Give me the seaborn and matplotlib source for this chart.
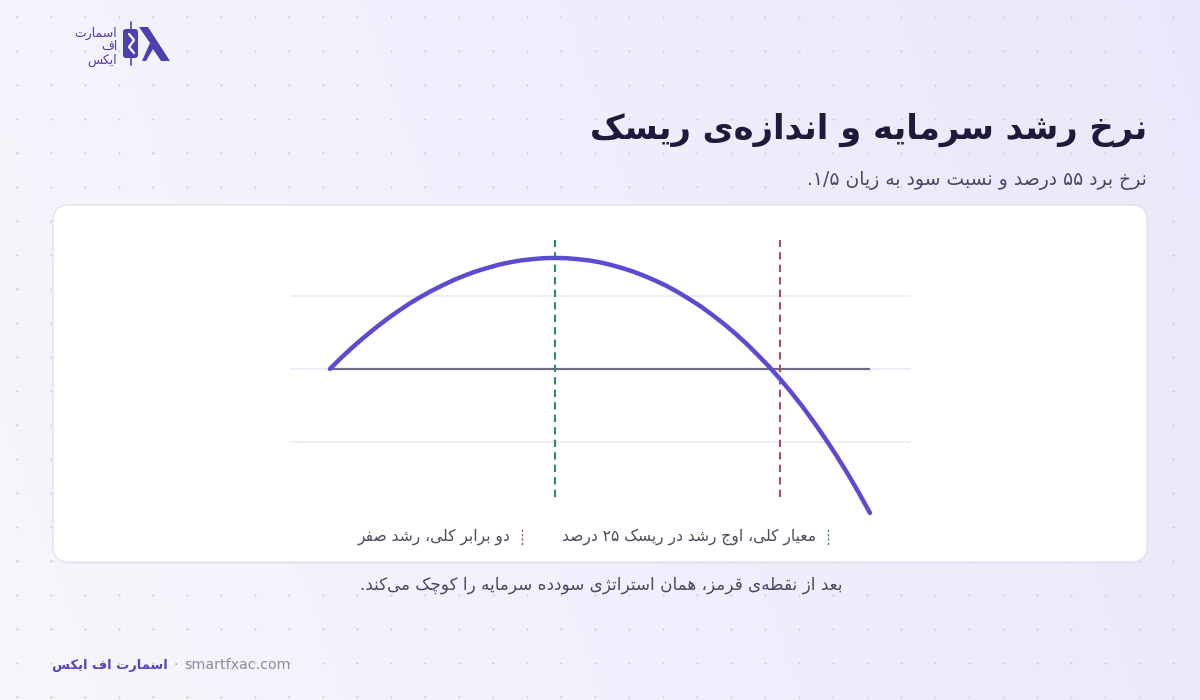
import re
import numpy as np
import matplotlib
matplotlib.use('Agg')
import matplotlib.pyplot as plt
from matplotlib.patches import FancyBboxPatch, Rectangle, Polygon
import seaborn as sns

# risk per trade vs. long-run growth rate (win rate 55%, reward/risk 1.5)
risk = [0.0, 0.0125, 0.025, 0.0375, 0.05, 0.0625, 0.075, 0.0875, 0.1, 0.1125,
        0.125, 0.1375, 0.15, 0.1625, 0.175, 0.1875, 0.2, 0.2125, 0.225, 0.2375,
        0.25, 0.2625, 0.275, 0.2875, 0.3, 0.3125, 0.325, 0.3375, 0.35, 0.3625,
        0.375, 0.3875, 0.4, 0.4125, 0.425, 0.4375, 0.45, 0.4625, 0.475, 0.4875,
        0.5, 0.5125, 0.525, 0.5375, 0.55, 0.5625, 0.575, 0.5875, 0.6]
growth = [0.0, 0.0046, 0.0089, 0.0129, 0.0167, 0.0203, 0.0236, 0.0267, 0.0295, 0.0321,
          0.0344, 0.0366, 0.0385, 0.0402, 0.0416, 0.0429, 0.0439, 0.0447, 0.0452, 0.0456,
          0.0457, 0.0456, 0.0452, 0.0447, 0.0439, 0.0428, 0.0415, 0.0400, 0.0382, 0.0362,
          0.0340, 0.0314, 0.0286, 0.0256, 0.0222, 0.0186, 0.0147, 0.0105, 0.0059, 0.0011,
          -0.0041, -0.0096, -0.0155, -0.0218, -0.0285, -0.0355, -0.0430, -0.0509, -0.0593]
kelly_risk = 0.25
double_kelly_risk = 0.5
grid_levels = [-0.03, 0.0, 0.03]

title = "نرخ رشد سرمایه و اندازه‌ی ریسک"
subtitle = "نرخ برد ۵۵ درصد و نسبت سود به زیان ۱/۵."
legend_labels = ["معیار کلی، اوج رشد در ریسک ۲۵ درصد", "دو برابر کلی، رشد صفر"]
note = "بعد از نقطه‌ی قرمز، همان استراتژی سودده سرمایه را کوچک می‌کند."
brand = "اسمارت اف ایکس"
site = "smartfxac.com"
logo_lines = ["اسمارت", "اف", "ایکس"]

# matplotlib has no arabic shaping, so do it by hand with presentation forms
FORMS = {
    'ا': (0xFE8D, 0xFE8E, None, None), 'آ': (0xFE81, 0xFE82, None, None),
    'ب': (0xFE8F, 0xFE90, 0xFE91, 0xFE92), 'ت': (0xFE95, 0xFE96, 0xFE97, 0xFE98),
    'ث': (0xFE99, 0xFE9A, 0xFE9B, 0xFE9C), 'ج': (0xFE9D, 0xFE9E, 0xFE9F, 0xFEA0),
    'ح': (0xFEA1, 0xFEA2, 0xFEA3, 0xFEA4), 'خ': (0xFEA5, 0xFEA6, 0xFEA7, 0xFEA8),
    'د': (0xFEA9, 0xFEAA, None, None), 'ذ': (0xFEAB, 0xFEAC, None, None),
    'ر': (0xFEAD, 0xFEAE, None, None), 'ز': (0xFEAF, 0xFEB0, None, None),
    'س': (0xFEB1, 0xFEB2, 0xFEB3, 0xFEB4), 'ش': (0xFEB5, 0xFEB6, 0xFEB7, 0xFEB8),
    'ص': (0xFEB9, 0xFEBA, 0xFEBB, 0xFEBC), 'ض': (0xFEBD, 0xFEBE, 0xFEBF, 0xFEC0),
    'ط': (0xFEC1, 0xFEC2, 0xFEC3, 0xFEC4), 'ظ': (0xFEC5, 0xFEC6, 0xFEC7, 0xFEC8),
    'ع': (0xFEC9, 0xFECA, 0xFECB, 0xFECC), 'غ': (0xFECD, 0xFECE, 0xFECF, 0xFED0),
    'ف': (0xFED1, 0xFED2, 0xFED3, 0xFED4), 'ق': (0xFED5, 0xFED6, 0xFED7, 0xFED8),
    'ل': (0xFEDD, 0xFEDE, 0xFEDF, 0xFEE0), 'م': (0xFEE1, 0xFEE2, 0xFEE3, 0xFEE4),
    'ن': (0xFEE5, 0xFEE6, 0xFEE7, 0xFEE8), 'ه': (0xFEE9, 0xFEEA, 0xFEEB, 0xFEEC),
    'و': (0xFEED, 0xFEEE, None, None), 'ی': (0xFBFC, 0xFBFD, 0xFBFE, 0xFBFF),
    'پ': (0xFB56, 0xFB57, 0xFB58, 0xFB59), 'چ': (0xFB7A, 0xFB7B, 0xFB7C, 0xFB7D),
    'ژ': (0xFB8A, 0xFB8B, None, None), 'ک': (0xFB8E, 0xFB8F, 0xFB90, 0xFB91),
    'گ': (0xFB92, 0xFB93, 0xFB94, 0xFB95),
}


def fa(s):
    out = []
    for i, c in enumerate(s):
        if c not in FORMS:
            out.append(c)
            continue
        prev = s[i - 1] if i > 0 else ''
        nxt = s[i + 1] if i + 1 < len(s) else ''
        iso, fin, ini, med = FORMS[c]
        jp = prev in FORMS and FORMS[prev][2] is not None
        jn = ini is not None and nxt in FORMS
        if jp and jn:
            out.append(chr(med))
        elif jp:
            out.append(chr(fin))
        elif jn:
            out.append(chr(ini))
        else:
            out.append(chr(iso))
    t = ''.join(out).replace('\u200c', '')[::-1]
    return re.sub(r'[0-9۰-۹]+(?:[/٫.][0-9۰-۹]+)*', lambda m: m.group(0)[::-1], t)


sns.set_theme(style='white')
plt.rcParams['font.family'] = ['DejaVu Sans']

fig = plt.figure(figsize=(12, 7), dpi=100)
bg = fig.add_axes([0, 0, 1, 1])
bg.set_xlim(0, 1200)
bg.set_ylim(700, 0)
bg.axis('off')

# soft lavender gradient
gx = np.linspace(0, 1, 240)
gy = np.linspace(0, 1, 140)
X, Y = np.meshgrid(gx, gy)
w = np.clip(0.75 * X + 0.15 * (1 - Y), 0, 1)[..., None]
c0 = np.array([0xf7, 0xf6, 0xfc]) / 255
c1 = np.array([0xe9, 0xe6, 0xfa]) / 255
bg.imshow(c0 * (1 - w) + c1 * w, extent=[0, 1200, 700, 0], aspect='auto', zorder=0)

dx, dy = np.meshgrid(np.arange(17, 1200, 34), np.arange(17, 700, 34))
bg.scatter(dx.ravel(), dy.ravel(), s=2.5, color='#cfcce0', linewidths=0, zorder=1)

# card
bg.add_patch(FancyBboxPatch((55, 208), 1092, 356, boxstyle='round,pad=0,rounding_size=16',
                            fc='#dcd8f2', ec='none', alpha=0.35, zorder=2))
bg.add_patch(FancyBboxPatch((53, 205), 1094, 357, boxstyle='round,pad=0,rounding_size=16',
                            fc='white', ec='#e4e1f2', lw=1, zorder=3))

# logo
ink = '#4b40b0'
for i, line in enumerate(logo_lines):
    bg.text(117, 33 + i * 13.5, fa(line), ha='right', va='center', fontsize=9, color=ink, zorder=5)
bg.plot([131, 131], [22, 65], color=ink, lw=1.2, zorder=5)
bg.add_patch(FancyBboxPatch((123, 29), 15, 29, boxstyle='round,pad=0,rounding_size=3',
                            fc=ink, ec='none', zorder=5))
bg.plot([129, 134, 129, 134], [34, 40, 47, 53], color='white', lw=1.6, zorder=6)
bg.add_patch(Polygon([(139, 27), (148, 27), (170, 61), (161, 61), (153, 49), (146, 61), (142, 61), (150, 43)],
                     closed=True, fc=ink, ec='none', zorder=5))

# titles
bg.text(1147, 130, fa(title), ha='right', va='center', fontsize=24.3, fontweight='bold',
        color='#1d1a3b', zorder=5)
bg.text(1147, 181, fa(subtitle), ha='right', va='center', fontsize=13.5, color='#4a4766', zorder=5)

# legend
leg_colors = ['#2f8a5f', '#b24a5e']
leg_x = [828, 522]
for lab, col, x in zip(legend_labels, leg_colors, leg_x):
    bg.plot([x, x], [529, 545], color=col, lw=0.9, ls=(0, (2, 1.5)), zorder=5)
    bg.text(x - 12, 537, fa(lab), ha='right', va='center', fontsize=11.2, color='#4d4a5e', zorder=5)

bg.text(843, 585, fa(note), ha='right', va='center', fontsize=12.1, color='#4a4766', zorder=5)

# footer
bg.text(168, 665, fa(brand), ha='right', va='center', fontsize=9.4, fontweight='bold',
        color='#5446c0', zorder=5)
bg.text(176, 665, '·', ha='center', va='center', fontsize=10, color='#9a97ad', zorder=5)
bg.text(184, 665, site, ha='left', va='center', fontsize=10.3, color='#8e8ba3', zorder=5)

# chart
ax = fig.add_axes([290 / 1200, 180 / 700, 621 / 1200, 290 / 700])
ax.set_facecolor('none')
for lv in grid_levels:
    ax.axhline(lv, color='#ebe9f5', lw=1.2, zorder=1)
ax.hlines(0, risk[0], risk[-1], color='#6e6a85', lw=1.6, zorder=2)
ax.vlines(kelly_risk, -0.0527, 0.0531, color='#2f8a5f', lw=1.5, linestyles=(0, (3.5, 2.5)), zorder=3)
ax.vlines(double_kelly_risk, -0.0527, 0.0531, color='#b24a5e', lw=1.5, linestyles=(0, (3.5, 2.5)), zorder=3)
sns.lineplot(x=risk, y=growth, ax=ax, color='#5a4bd1', linewidth=3.2, sort=False, zorder=4)
for l in ax.lines[-1:]:
    l.set_solid_capstyle('round')
    l.set_solid_joinstyle('round')
ax.set_xlim(-0.0444, 0.6456)
ax.set_ylim(-0.0622, 0.0572)
ax.axis('off')

fig.savefig('out.png', dpi=100)
